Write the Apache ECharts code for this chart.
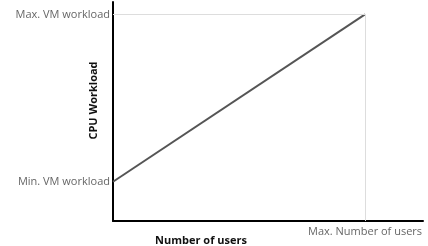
<!DOCTYPE html>
<html>
<head>
<meta charset="utf-8">
<script src="https://cdn.jsdelivr.net/npm/echarts@6/dist/echarts.min.js"></script>
<style>
  html, body { margin: 0; padding: 0; background: #fff; }
  #main { width: 428px; height: 246px; }
</style>
</head>
<body>
<div id="main"></div>
<script>
// data
var users = [0, 1]
var workload = [0.19, 1]
var yTickValues = [0.19, 1]
var yTickLabels = ['Min. VM workload', 'Max. VM workload']
var xTickValues = [1]
var xTickLabels = ['Max. Number of users']

var myChart = echarts.init(document.getElementById('main'))

var points = users.map(function (u, i) { return [u, workload[i]] })
var last = points[points.length - 1]

var option = {
  animation: false,
  grid: { left: 113, right: 5, top: 2, bottom: 25, containLabel: false, outerBoundsMode: 'none' },
  xAxis: {
    type: 'value',
    min: 0,
    max: 1.23,
    name: 'Number of users',
    nameLocation: 'middle',
    nameGap: 14,
    nameMoveOverlap: false,
    nameTextStyle: {
      fontFamily: 'Open Sans', fontWeight: 'bold', fontSize: 11, color: '#111',
      padding: [0, 134, 0, 0]
    },
    axisLine: { lineStyle: { color: '#000', width: 2 } },
    axisTick: { show: false },
    splitLine: { show: false },
    axisLabel: {
      customValues: xTickValues,
      formatter: function (v) { return xTickLabels[xTickValues.indexOf(v)] },
      fontFamily: 'Open Sans', fontSize: 11, color: '#666', margin: 5
    }
  },
  yAxis: {
    type: 'value',
    min: 0,
    max: 1.06,
    name: 'CPU Workload',
    nameLocation: 'middle',
    nameGap: 14,
    nameMoveOverlap: false,
    nameTextStyle: {
      fontFamily: 'Open Sans', fontWeight: 'bold', fontSize: 11, color: '#111',
      padding: [0, 0, 0, 22]
    },
    axisLine: { show: true, lineStyle: { color: '#000', width: 2 } },
    axisTick: { show: false },
    splitLine: { show: false },
    axisLabel: {
      customValues: yTickValues,
      formatter: function (v) { return yTickLabels[yTickValues.indexOf(v)] },
      fontFamily: 'Open Sans', fontSize: 11, color: '#666', margin: 3
    }
  },
  series: [
    {
      type: 'line',
      data: points,
      showSymbol: false,
      lineStyle: { color: '#555', width: 2 },
      markLine: {
        silent: true,
        symbol: 'none',
        label: { show: false },
        lineStyle: { color: '#ddd', width: 1, type: 'solid' },
        data: [
          [{ coord: [0, last[1]] }, { coord: [last[0], last[1]] }],
          [{ coord: [last[0], 0] }, { coord: [last[0], last[1]] }]
        ]
      },
      z: 3
    }
  ]
}

myChart.setOption(option)
</script>
</body>
</html>
